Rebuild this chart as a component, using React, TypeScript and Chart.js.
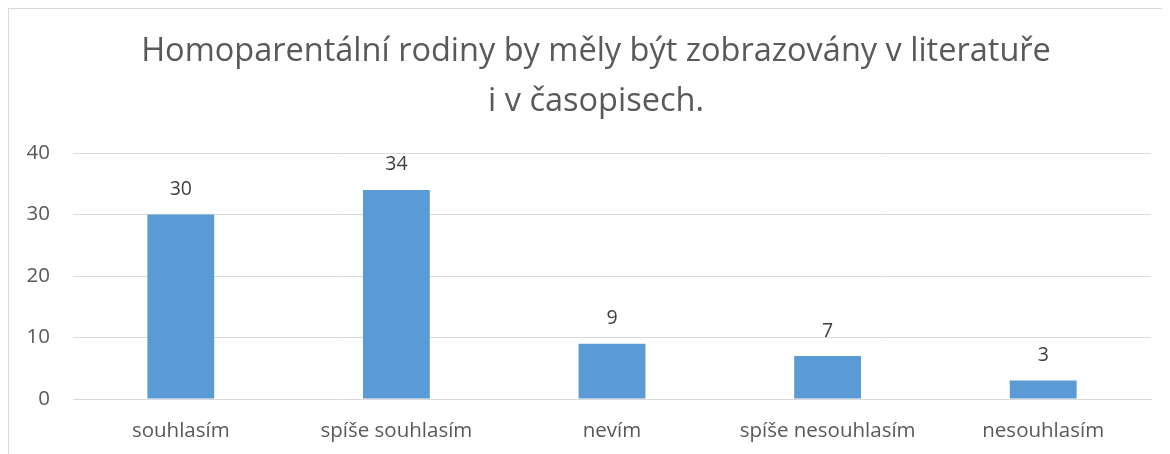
import React, { useEffect, useRef } from "react";
import { Chart, registerables } from "chart.js";

Chart.register(...registerables);

const titleLines = ["Homoparentální rodiny by měly být zobrazovány v literatuře", "i v časopisech."];
const categories = ["souhlasím", "spíše souhlasím", "nevím", "spíše nesouhlasím", "nesouhlasím"];
const values = [30, 34, 9, 7, 3];
const yTicks = [0, 10, 20, 30, 40];

const FONT = "'Open Sans', 'Noto Sans', sans-serif";
const TEXT = "#595959";
const GRID = "#d9d9d9";
const BAR = "#5b9bd5";

const valueLabels = {
  id: "valueLabels",
  afterDatasetsDraw(chart: any) {
    const ctx = chart.ctx;
    const meta = chart.getDatasetMeta(0);
    ctx.save();
    ctx.font = `19.5px ${FONT}`;
    ctx.fillStyle = "#404040";
    ctx.textAlign = "center";
    ctx.textBaseline = "middle";
    meta.data.forEach((bar: any, i: number) => {
      ctx.fillText(String(chart.data.datasets[0].data[i]), bar.x, bar.y - 25);
    });
    ctx.restore();
  },
};

export default function App() {
  const ref = useRef<HTMLCanvasElement>(null);
  useEffect(() => {
    if (!ref.current) return;
    const chart = new Chart(ref.current, {
      type: "bar",
      data: {
        labels: categories,
        datasets: [
          {
            data: values,
            backgroundColor: BAR,
            borderWidth: 0,
            barPercentage: 0.31,
            categoryPercentage: 1,
          },
        ],
      },
      options: {
        animation: false,
        responsive: false,
        layout: { padding: 0 },
        plugins: {
          legend: { display: false },
          tooltip: { enabled: false },
          title: {
            display: true,
            text: titleLines,
            color: TEXT,
            font: { family: FONT, size: 32.5, weight: "normal", lineHeight: 50 / 32.5 },
            padding: { top: 18, bottom: 26 },
          },
        },
        scales: {
          x: {
            grid: { display: false, drawTicks: false },
            border: { display: true, color: GRID, width: 1 },
            ticks: { color: TEXT, font: { family: FONT, size: 20.5 }, padding: 20, maxRotation: 0 },
            afterFit: (s: any) => {
              s.height = 55;
            },
          },
          y: {
            min: 0,
            max: 40,
            afterBuildTicks: (s: any) => {
              s.ticks = yTicks.map((v) => ({ value: v }));
            },
            grid: { color: GRID, lineWidth: 1, drawTicks: false },
            border: { display: false },
            ticks: { color: TEXT, font: { family: FONT, size: 20.5 }, padding: 23 },
            afterFit: (s: any) => {
              s.width = 64;
            },
          },
          spacer: {
            type: "linear",
            position: "right",
            display: true,
            grid: { display: false, drawTicks: false },
            border: { display: false },
            ticks: { display: false },
            afterFit: (s: any) => {
              s.width = 32;
            },
          },
        },
      },
      plugins: [valueLabels],
    });
    return () => chart.destroy();
  }, []);
  return (
    <div
      style={{
        width: 1162,
        height: 446,
        borderLeft: "1px solid #d9d9d9",
        borderTop: "1px solid #d9d9d9",
        background: "#fff",
        overflow: "hidden",
      }}
    >
      <canvas ref={ref} width={1174} height={445} style={{ display: "block" }} />
    </div>
  );
}
